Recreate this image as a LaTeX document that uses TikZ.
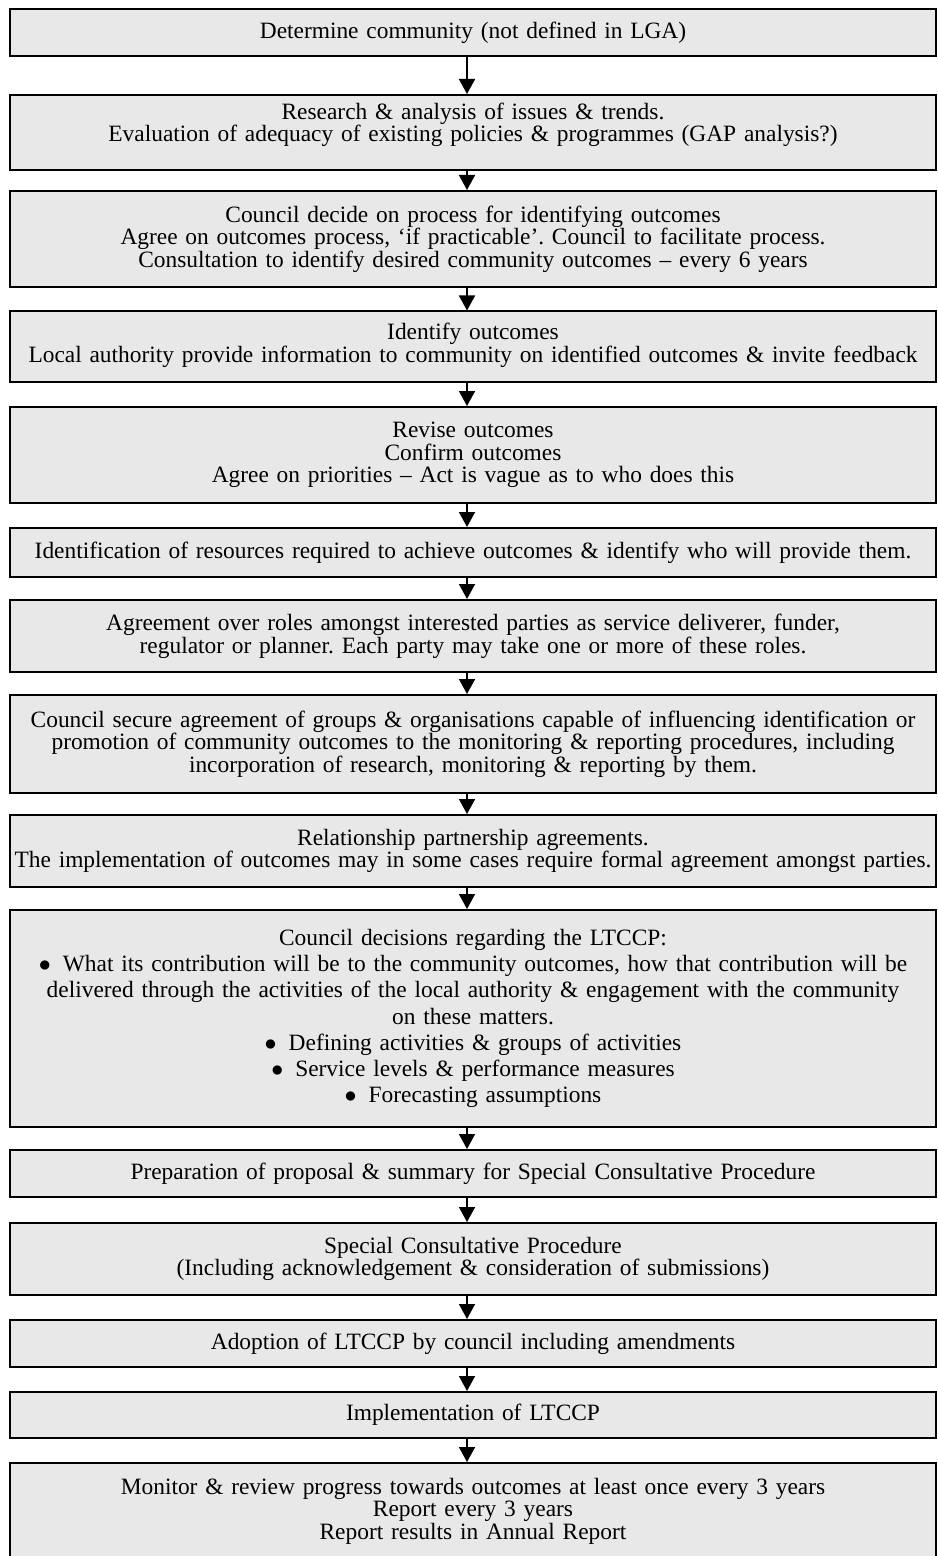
\documentclass[tikz,border=0pt]{standalone}
\usepackage{fontspec}
\setmainfont{Liberation Serif}
\usepackage{tikz}
\usetikzlibrary{arrows.meta}
\definecolor{boxgray}{RGB}{232,232,232}
\frenchspacing

\newcommand{\flowbullet}{$\bullet$\hspace{6pt}}

\tikzset{
  stagebox/.style={draw=black,line width=1pt,fill=boxgray,align=center,
    text width=460pt,inner xsep=1.5pt,inner ysep=1pt,
    font=\fontsize{11.7}{11.3}\selectfont},
  flowarrow/.style={line width=0.8pt,-{Triangle[width=8pt,length=7.5pt]}}
}

\begin{document}
\begin{tikzpicture}[x=0.5pt,y=-0.5pt]
			\useasboundingbox (0,0) rectangle (937,1556);
			\coordinate (axis) at (467,0);
			
			\node[stagebox,minimum height=23.5pt] (s_community) at (473,32.5) {Determine community (not defined in LGA)};
			\node[stagebox,minimum height=37.5pt] (s_research) at (473,132.5) {Research \& analysis of issues \& trends.\\Evaluation of adequacy of existing policies \& programmes (GAP analysis?)\\[-1pt]\mbox{}};
			\node[stagebox,minimum height=48pt] (s_process) at (473,239) {Council decide on process for identifying outcomes\\Agree on outcomes process, ‘if practicable’. Council to facilitate process.\\Consultation to identify desired community outcomes – every 6 years};
			\node[stagebox,minimum height=35pt] (s_identify) at (473,346.5) {\mbox{}\\[-4pt]Identify outcomes\\Local authority provide information to community on identified outcomes \& invite feedback};
			\node[stagebox,minimum height=48pt] (s_revise) at (473,455) {Revise outcomes\\Confirm outcomes\\Agree on priorities – Act is vague as to who does this};
			\node[stagebox,minimum height=24.5pt] (s_resources) at (473,552.5) {Identification of resources required to achieve outcomes \& identify who will provide them.};
			\node[stagebox,minimum height=36pt] (s_roles) at (473,636) {Agreement over roles amongst interested parties as service deliverer, funder,\\regulator or planner. Each party may take one or more of these roles.};
			\node[stagebox,minimum height=49pt] (s_secure) at (473,744) {Council secure agreement of groups \& organisations capable of influencing identification or\\promotion of community outcomes to the monitoring \& reporting procedures, including\\incorporation of research, monitoring \& reporting by them.};
			\node[stagebox,minimum height=36pt] (s_partner) at (473,851) {Relationship partnership agreements.\\The implementation of outcomes may in some cases require formal agreement amongst parties.};
			\node[stagebox,minimum height=108.5pt,font=\fontsize{11.7}{13.1}\selectfont] (s_ltccp) at (473,1018.5) {Council decisions regarding the LTCCP:\\
				\flowbullet What its contribution will be to the community outcomes, how that contribution will be\\
				delivered through the activities of the local authority \& engagement with the community\\
				on these matters.\\
				\flowbullet Defining activities \& groups of activities\\
				\flowbullet Service levels \& performance measures\\
				\flowbullet Forecasting assumptions};
			\node[stagebox,minimum height=23.5pt] (s_proposal) at (473,1173.5) {Preparation of proposal \& summary for Special Consultative Procedure};
			\node[stagebox,minimum height=36pt] (s_scp) at (473,1259) {Special Consultative Procedure\\(Including acknowledgement \& consideration of submissions)};
			\node[stagebox,minimum height=23.5pt] (s_adopt) at (473,1343.5) {Adoption of LTCCP by council including amendments};
			\node[stagebox,minimum height=23pt] (s_implement) at (473,1415) {Implementation of LTCCP};
			\node[stagebox,minimum height=48pt] (s_monitor) at (473,1511) {Monitor \& review progress towards outcomes at least once every 3 years\\Report every 3 years\\Report results in Annual Report};
			
			\foreach \a/\b in {s_community/s_research,s_research/s_process,s_process/s_identify,s_identify/s_revise,s_revise/s_resources,s_resources/s_roles,s_roles/s_secure,s_secure/s_partner,s_partner/s_ltccp,s_ltccp/s_proposal,s_proposal/s_scp,s_scp/s_adopt,s_adopt/s_implement,s_implement/s_monitor}
				\draw[flowarrow] (\a.south -| axis) -- (\b.north -| axis);
		\end{tikzpicture}
\end{document}
